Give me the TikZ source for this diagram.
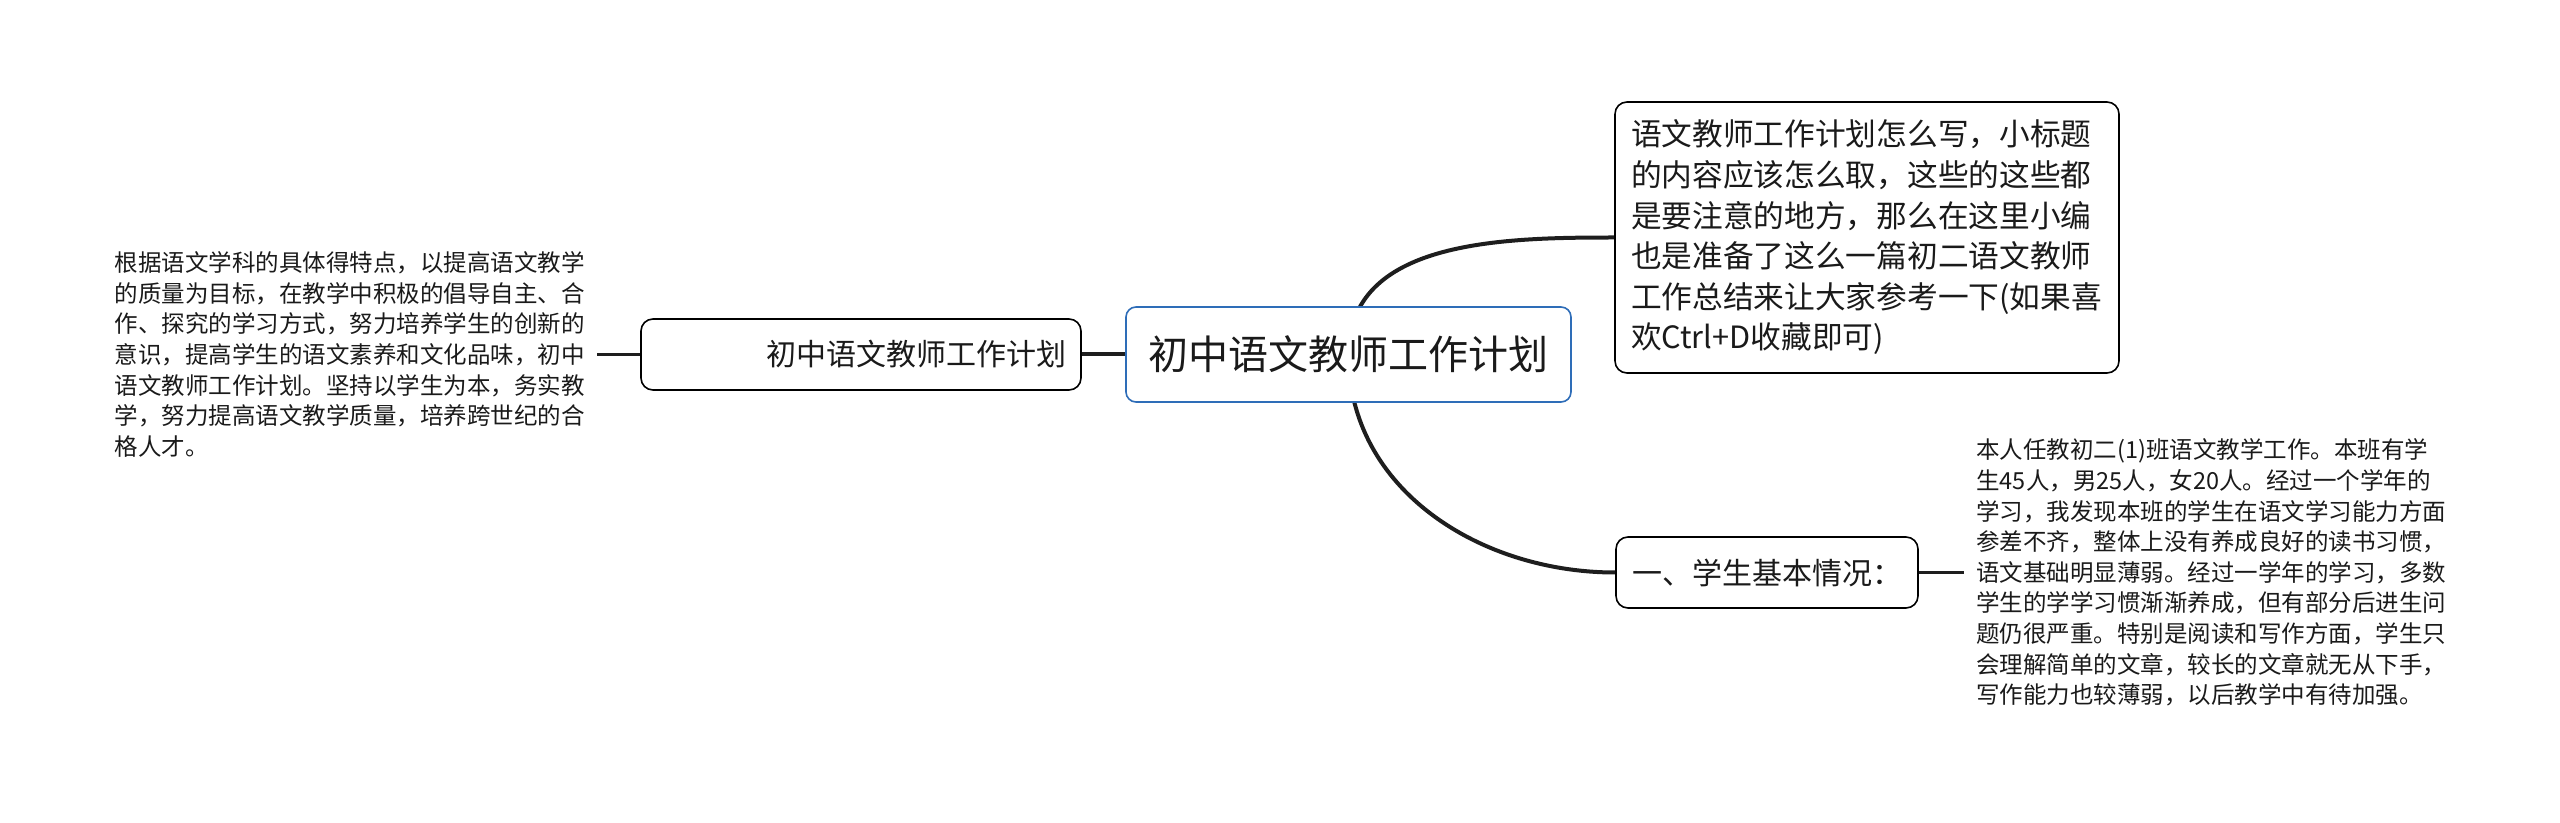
\documentclass[tikz,border=0pt]{standalone}
\usepackage{fontspec}
\setmainfont{Noto Sans CJK SC}
\usepackage{xcolor}
\definecolor{mapLine}{HTML}{1E1E1E}
\definecolor{mapText}{HTML}{1A1A1A}
\definecolor{mapRoot}{HTML}{2E6DB8}
\usetikzlibrary{backgrounds}

\tikzset{
  rootbox/.style={draw=mapRoot, line width=0.8pt, rounded corners=5pt, fill=white, text=mapText,
    minimum width=222.5pt, minimum height=47.5pt, font=\fontsize{20pt}{24pt}\selectfont},
  topicbox/.style={draw=black, line width=0.8pt, rounded corners=6pt, fill=white, text=mapText,
    inner xsep=8pt, minimum height=35.5pt, font=\fontsize{15pt}{20pt}\selectfont},
  notetext/.style={text=mapText, align=left, inner xsep=6pt, inner ysep=0pt,
    font=\fontsize{11.75pt}{15.3pt}\selectfont},
  branch/.style={draw=mapLine, line width=2pt},
  stem/.style={draw=mapLine, line width=1.4pt}
}

\begin{document}
\begin{tikzpicture}[x=0.5pt, y=-0.5pt]
  \useasboundingbox (0,0) rectangle (2560,823);
  \node[rootbox] (main) at (1348.5,354.5) {初中语文教师工作计划};
  \node[topicbox, text width=205pt, inner xsep=7.5pt, align=right] (plan) at (861,354.5) {初中语文教师工作计划};
  \node[topicbox, text width=236pt, minimum height=135.5pt, align=left, font=\fontsize{15.35pt}{20.3pt}\selectfont] (intro) at (1867,237.5) {语文教师工作计划怎么写，小标题\\
的内容应该怎么取，这些的这些都\\
是要注意的地方，那么在这里小编\\
也是准备了这么一篇初二语文教师\\
工作总结来让大家参考一下(如果喜\\
欢Ctrl+D收藏即可)};
  \node[topicbox, text width=135pt, align=left] (basic) at (1767,572.5) {一、学生基本情况：};
  \node[notetext, anchor=east] (plantext) at (597,354.5) {根据语文学科的具体得特点，以提高语文教学\\
的质量为目标，在教学中积极的倡导自主、合\\
作、探究的学习方式，努力培养学生的创新的\\
意识，提高学生的语文素养和文化品味，初中\\
语文教师工作计划。坚持以学生为本，务实教\\
学，努力提高语文教学质量，培养跨世纪的合\\
格人才。};
  \node[notetext, anchor=west] (basictext) at (1964,572.5) {本人任教初二(1)班语文教学工作。本班有学\\
生45人，男25人，女20人。经过一个学年的\\
学习，我发现本班的学生在语文学习能力方面\\
参差不齐，整体上没有养成良好的读书习惯，\\
语文基础明显薄弱。经过一学年的学习，多数\\
学生的学学习惯渐渐养成，但有部分后进生问\\
题仍很严重。特别是阅读和写作方面，学生只\\
会理解简单的文章，较长的文章就无从下手，\\
写作能力也较薄弱，以后教学中有待加强。};
  \begin{scope}[on background layer]
    \draw[branch] (main.center) .. controls +(0,-114) and +(-114,0) .. (intro.west);
    \draw[branch] (main.center) .. controls +(0,135) and +(-135,0) .. (basic.west);
    \draw[branch] (plan) -- (main);
    \draw[stem] (plantext.east) -- (plan.west);
    \draw[stem] (basic.east) -- (basictext.west);
  \end{scope}
\end{tikzpicture}
\end{document}
